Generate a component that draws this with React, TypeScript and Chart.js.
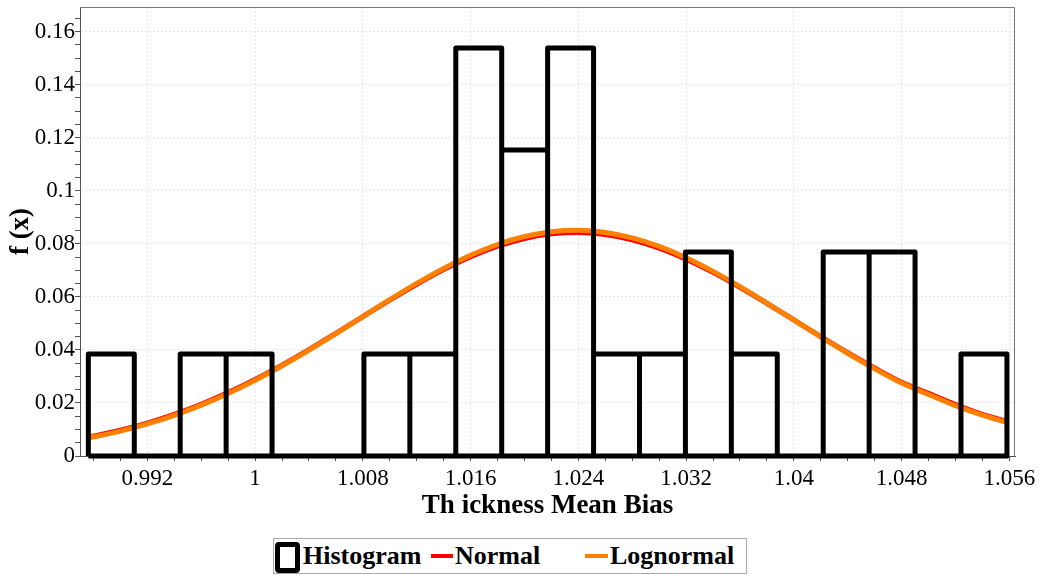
import React, { useEffect, useRef } from "react";
import { Chart, registerables } from "chart.js";

Chart.register(...registerables);

// ---- Data ----
const binEdges = [
  0.98762, 0.99103, 0.99444, 0.99785, 1.00126, 1.00467, 1.00808, 1.01149, 1.0149, 1.01831,
  1.02172, 1.02513, 1.02854, 1.03195, 1.03536, 1.03877, 1.04218, 1.04559, 1.049, 1.05241, 1.05582,
];
const frequencies = [
  0.0385, 0, 0.0385, 0.0385, 0, 0, 0.0385, 0.0385, 0.1538, 0.1154,
  0.1538, 0.0385, 0.0385, 0.0769, 0.0385, 0, 0.0769, 0.0769, 0, 0.0385,
];
const curveX = [
  0.98762, 0.99, 0.992, 0.994, 0.996, 0.998, 1.0, 1.002, 1.004, 1.006, 1.008, 1.01, 1.012,
  1.014, 1.016, 1.018, 1.02, 1.022, 1.024, 1.026, 1.028, 1.03, 1.032, 1.034, 1.036, 1.038,
  1.04, 1.042, 1.044, 1.046, 1.048, 1.05, 1.052, 1.054, 1.05582,
];
const normalValues = [
  0.00705, 0.00969, 0.01242, 0.01569, 0.01951, 0.0239, 0.02884, 0.03428, 0.04013, 0.04627,
  0.05255, 0.05878, 0.06476, 0.07028, 0.07513, 0.0791, 0.08203, 0.08378, 0.08429, 0.08353,
  0.08153, 0.07838, 0.07422, 0.06923, 0.0636, 0.05755, 0.05129, 0.04502, 0.03893, 0.03316,
  0.02781, 0.0236, 0.0194, 0.0157, 0.013,
];
const lognormalValues = [
  0.00679, 0.00939, 0.0121, 0.01535, 0.01917, 0.02357, 0.02854, 0.03403, 0.03995, 0.04618,
  0.05258, 0.05894, 0.06506, 0.07071, 0.07568, 0.07975, 0.08276, 0.08457, 0.08509, 0.08431,
  0.08225, 0.07902, 0.07475, 0.06962, 0.06386, 0.05768, 0.0513, 0.04492, 0.03874, 0.03289,
  0.0275, 0.0232, 0.019, 0.0154, 0.0127,
];
const xMajorTicks = [0.992, 1, 1.008, 1.016, 1.024, 1.032, 1.04, 1.048, 1.056];
const yMajorTicks = [0, 0.02, 0.04, 0.06, 0.08, 0.1, 0.12, 0.14, 0.16];
const xMinorStep = 0.002;
const yMinorStep = 0.005;
const xRange = [0.987, 1.05642];
const yRange = [0, 0.1693];

const SERIF = "'Liberation Serif', 'Times New Roman', serif";

const isMajor = (v: number, majors: number[]) => majors.some((m) => Math.abs(m - v) < 1e-7);

const framePlugin = {
  id: "frame",
  afterDraw(chart: any) {
    const { ctx, chartArea } = chart;
    ctx.save();
    ctx.strokeStyle = "#777";
    ctx.lineWidth = 1;
    ctx.beginPath();
    ctx.moveTo(chartArea.left, chartArea.top + 0.5);
    ctx.lineTo(chartArea.right - 0.5, chartArea.top + 0.5);
    ctx.lineTo(chartArea.right - 0.5, chartArea.bottom);
    ctx.stroke();
    ctx.restore();
  },
};

export default function App() {
  const canvasRef = useRef<HTMLCanvasElement | null>(null);

  useEffect(() => {
    const canvas = canvasRef.current;
    if (!canvas) return;

    // closed outline for every bin, including its bottom edge on the baseline
    const histPath: { x: number; y: number }[] = [{ x: binEdges[0], y: 0 }];
    frequencies.forEach((f, i) => {
      histPath.push({ x: binEdges[i], y: f });
      histPath.push({ x: binEdges[i + 1], y: f });
      histPath.push({ x: binEdges[i + 1], y: 0 });
    });
    histPath.push({ x: binEdges[0], y: 0 });

    const normalPts = curveX.map((x, i) => ({ x, y: normalValues[i] }));
    const lognormalPts = curveX.map((x, i) => ({ x, y: lognormalValues[i] }));

    const xTicks: { value: number }[] = [];
    for (let k = Math.ceil(xRange[0] / xMinorStep); k * xMinorStep <= xRange[1] + 1e-9; k++) {
      xTicks.push({ value: Math.round(k * xMinorStep * 1e6) / 1e6 });
    }
    const yTicks: { value: number }[] = [];
    for (let k = 0; k * yMinorStep <= yRange[1] + 1e-9; k++) {
      yTicks.push({ value: Math.round(k * yMinorStep * 1e6) / 1e6 });
    }

    const chart = new Chart(canvas, {
      type: "line",
      data: {
        datasets: [
          {
            label: "Histogram",
            data: histPath,
            borderColor: "#000000",
            borderWidth: 5,
            borderJoinStyle: "round",
            pointRadius: 0,
            tension: 0,
            fill: false,
            clip: 6,
            order: 0,
          },
          {
            label: "Lognormal",
            data: lognormalPts,
            borderColor: "#ff8000",
            borderWidth: 5,
            pointRadius: 0,
            cubicInterpolationMode: "monotone",
            fill: false,
            clip: 6,
            order: 1,
          },
          {
            label: "Normal",
            data: normalPts,
            borderColor: "#ff0000",
            borderWidth: 5,
            pointRadius: 0,
            cubicInterpolationMode: "monotone",
            fill: false,
            clip: 6,
            order: 2,
          },
        ] as any,
      },
      options: {
        animation: false,
        responsive: false,
        events: [],
        layout: { padding: { top: 7, right: 30, left: 8, bottom: 0 } },
        plugins: { legend: { display: false }, tooltip: { enabled: false } },
        scales: {
          x: {
            type: "linear",
            min: xRange[0],
            max: xRange[1],
            afterBuildTicks: (scale: any) => {
              scale.ticks = xTicks.map((t) => ({ ...t }));
            },
            afterFit: (scale: any) => {
              scale.height = 79;
              scale.paddingLeft = 0;
              scale.paddingRight = 0;
            },
            ticks: {
              autoSkip: false,
              maxRotation: 0,
              padding: 4,
              color: "#000",
              font: { family: SERIF, size: 23 },
              callback: (v: any) => (isMajor(Number(v), xMajorTicks) ? String(Number(Number(v).toFixed(3))) : ""),
            },
            grid: {
              color: (ctx: any) => (ctx.tick && isMajor(ctx.tick.value, xMajorTicks) ? "#e6e6e6" : "rgba(0,0,0,0)"),
              lineWidth: 1,
              tickColor: "#555",
              tickLength: 5,
              tickWidth: 1,
            },
            border: { display: true, color: "#555", width: 1, dash: [2, 2] },
            title: {
              display: true,
              text: "Th ickness Mean Bias",
              color: "#000",
              font: { family: SERIF, size: 27, weight: "bold", lineHeight: 1 },
              padding: { top: 0, bottom: 15 },
            },
          },
          y: {
            type: "linear",
            min: yRange[0],
            max: yRange[1],
            afterBuildTicks: (scale: any) => {
              scale.ticks = yTicks.map((t) => ({ ...t }));
            },
            afterFit: (scale: any) => {
              scale.width = 72;
              scale.paddingTop = 0;
              scale.paddingBottom = 0;
            },
            ticks: {
              autoSkip: false,
              padding: 0,
              color: "#000",
              font: { family: SERIF, size: 23 },
              callback: (v: any) => (isMajor(Number(v), yMajorTicks) ? String(Number(Number(v).toFixed(2))) : ""),
            },
            grid: {
              color: (ctx: any) => (ctx.tick && isMajor(ctx.tick.value, yMajorTicks) ? "#e6e6e6" : "rgba(0,0,0,0)"),
              lineWidth: 1,
              tickColor: "#555",
              tickLength: 5,
              tickWidth: 1,
            },
            border: { display: true, color: "#555", width: 1, dash: [2, 2] },
            title: {
              display: true,
              text: "f (x)",
              color: "#000",
              font: { family: SERIF, size: 27, weight: "bold", lineHeight: 1 },
              padding: { top: 0, bottom: 0 },
            },
          },
        },
      } as any,
      plugins: [framePlugin],
    });

    return () => chart.destroy();
  }, []);

  const legendText: React.CSSProperties = {
    position: "absolute",
    top: 4,
    fontFamily: SERIF,
    fontWeight: "bold",
    fontSize: 26,
    lineHeight: "26px",
    color: "#000",
    whiteSpace: "nowrap",
  };

  return (
    <div style={{ position: "fixed", left: 0, top: 0, width: 1045, height: 575, background: "#fff" }}>
      <canvas ref={canvasRef} width={1045} height={535} style={{ position: "absolute", left: 0, top: 0, width: 1045, height: 535 }} />
      <div
        style={{
          position: "absolute",
          left: 273,
          top: 538,
          width: 474,
          height: 36,
          border: "1px solid #aaa",
          boxSizing: "border-box",
          background: "#fff",
        }}
      >
        <div
          style={{
            position: "absolute",
            left: 1,
            top: 3,
            width: 25,
            height: 31,
            border: "5px solid #000",
            borderRadius: 4,
            boxSizing: "border-box",
          }}
        />
        <span style={{ ...legendText, left: 29 }}>Histogram</span>
        <div style={{ position: "absolute", left: 157, top: 15, width: 22, height: 4, background: "#ff0000" }} />
        <span style={{ ...legendText, left: 181 }}>Normal</span>
        <div style={{ position: "absolute", left: 311, top: 15, width: 23, height: 4, background: "#ff8000" }} />
        <span style={{ ...legendText, left: 336 }}>Lognormal</span>
      </div>
    </div>
  );
}
